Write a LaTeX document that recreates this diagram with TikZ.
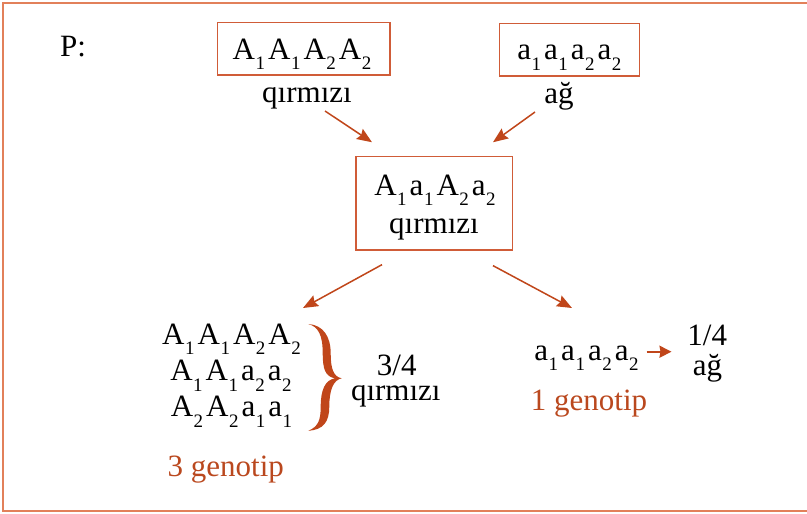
\documentclass[tikz,border=0pt]{standalone}
\usepackage{fontspec}
\setmainfont{Liberation Serif}
\usetikzlibrary{arrows.meta,calc}
\definecolor{frameC}{RGB}{226,128,90}
\definecolor{boxC}{RGB}{208,92,56}
\definecolor{arrC}{RGB}{192,70,26}
\definecolor{redT}{RGB}{186,72,30}
\newcommand\gal[2]{#1\kern0.5pt\raisebox{-10.5pt}[0pt][0pt]{\fontsize{19}{19}\selectfont #2}}
\newcommand\gsp{\kern3pt}
\begin{document}
\begin{tikzpicture}[x=1pt,y=-1pt,
  every node/.style={inner sep=0pt, font=\fontsize{31}{37}\selectfont},
  txt/.style={anchor=base},
  redtxt/.style={anchor=base, text=redT},
  gbox/.style={draw=boxC, line width=1.4pt, rectangle},
  arr/.style={draw=arrC, line width=1.5pt, -{Stealth[length=15pt,width=12pt,inset=2pt]}},
  sarr/.style={draw=arrC, line width=1.8pt, -{Stealth[length=12pt,width=12pt,inset=1pt]}}]
\clip (0,0) rectangle (807,514);
\draw[frameC, line width=1.5pt] (3,3) rectangle (840,511);
% P line
\node[txt] (P) at (73,56.7) {P:};
\node[gbox, minimum width=172.3pt, minimum height=52.3pt] (b1) at (303.8,48.9) {};
\node[txt] (t1) at (302,59.3) {\gal{A}{1}\gsp\gal{A}{1}\gsp\gal{A}{2}\gsp\gal{A}{2}};
\node[txt] (q1) at (307,102.7) {qırmızı};
\node[gbox, minimum width=140pt, minimum height=52.7pt] (b2) at (569.3,49.7) {};
\node[txt] (t2) at (569.3,59.5) {\gal{a}{1}\gsp\gal{a}{1}\gsp\gal{a}{2}\gsp\gal{a}{2}};
\node[txt] (q2) at (559,103) {ağ};
% F1
\node[gbox, minimum width=156.7pt, minimum height=93.3pt] (mid) at (434.3,203.3) {};
\node[txt] (mt) at (435,195) {\gal{A}{1}\gsp\gal{a}{1}\gsp\gal{A}{2}\gsp\gal{a}{2}};
\node[txt] (mq) at (434,233.3) {qırmızı};
% F2 left
\node[txt] (r1) at (231.5,344) {\gal{A}{1}\gsp\gal{A}{1}\gsp\gal{A}{2}\gsp\gal{A}{2}};
\node[txt] (r2) at (231,380.5) {\gal{A}{1}\gsp\gal{A}{1}\gsp\gal{a}{2}\gsp\gal{a}{2}};
\node[txt] (r3) at (231.5,416.5) {\gal{A}{2}\gsp\gal{A}{2}\gsp\gal{a}{1}\gsp\gal{a}{1}};
\node[txt, text depth=0pt] (f34) at (396.7,375) {3/4};
\node[txt] (q34) at (395.8,400) {qırmızı};
\node[redtxt] (g3) at (225.8,476.7) {3 genotip};
% F2 right
\node[txt] (rr) at (586.5,360) {\gal{a}{1}\gsp\gal{a}{1}\gsp\gal{a}{2}\gsp\gal{a}{2}};
\node[txt, text depth=0pt] (n14) at (707.3,345) {1/4};
\node[txt] (nag) at (707.5,375) {ağ};
\node[redtxt] (g1) at (589,410) {1 genotip};
% brace
\fill[arrC] (308.3,324)
  .. controls (323.3,325) and (330.7,336.7) .. (330.7,353.3)
  .. controls (330.7,368.3) and (333.3,376.7) .. (341.7,378.3)
  .. controls (333.3,380) and (329.3,390) .. (329.3,406.7)
  .. controls (329.3,421.7) and (323.3,430) .. (308.3,430.7)
  .. controls (318.3,426.7) and (320.7,420) .. (320.7,406.7)
  .. controls (320.7,390) and (325,380) .. (335,378.3)
  .. controls (325,376.7) and (322.7,368.3) .. (322.7,353.3)
  .. controls (322.7,335) and (318.3,326.7) .. (308.3,324) -- cycle;
% arrows
\draw[arr] ([xshift=18pt,yshift=-8.3pt]q1.base) -- ([xshift=-62.3pt,yshift=13.7pt]mid.north);
\draw[arr] ([xshift=-24pt,yshift=-9pt]q2.base) -- ([xshift=58.7pt,yshift=13.7pt]mid.north);
\draw[arr] ([xshift=-52.3pt,yshift=-14pt]mid.south) -- ([xshift=71.5pt,yshift=36pt]r1.base);
\draw[arr] ([xshift=58.7pt,yshift=-15pt]mid.south) -- ([xshift=-14.5pt,yshift=52pt]rr.base);
\draw[sarr] ([xshift=8pt,yshift=8.3pt]rr.base east) -- ([xshift=-15.8pt,yshift=-6.7pt]n14.base west);
\end{tikzpicture}
\end{document}
